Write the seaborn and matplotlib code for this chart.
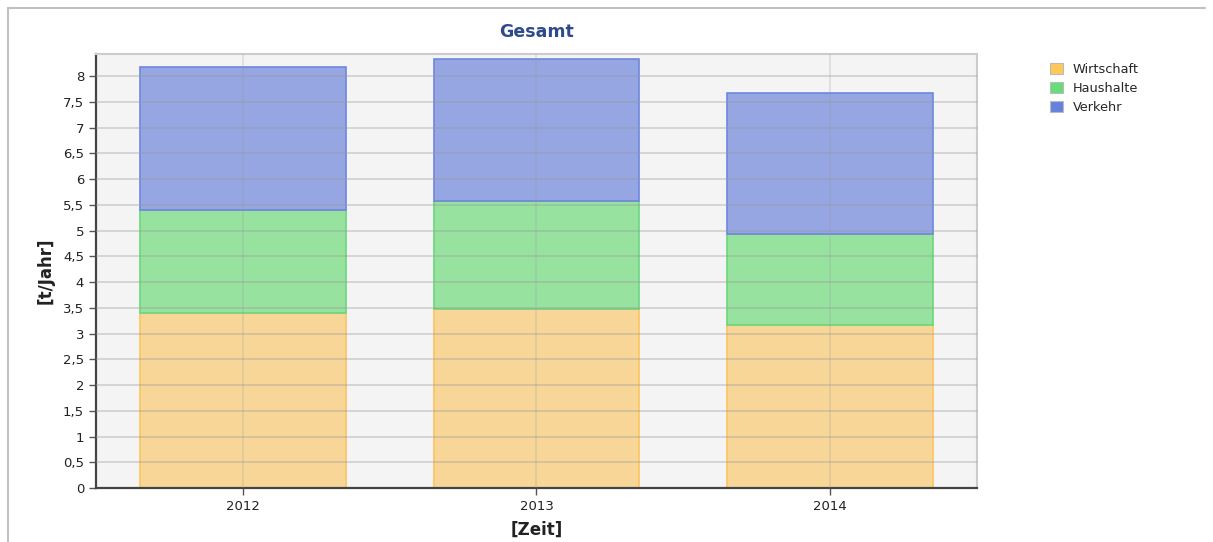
import numpy as np
import pandas as pd
import matplotlib
matplotlib.use("Agg")
import matplotlib.pyplot as plt
from matplotlib.patches import Patch
from matplotlib.lines import Line2D
import seaborn as sns

# data
years = ["2012", "2013", "2014"]
wirtschaft = [3.39, 3.48, 3.17]
haushalte = [2.02, 2.09, 1.76]
verkehr = [2.76, 2.76, 2.75]

series_names = ["Wirtschaft", "Haushalte", "Verkehr"]
fills = ["#f8d698", "#98e2a0", "#95a6e2"]
edges = ["#fcc45e", "#6bd67e", "#6f86df"]
legend_cols = ["#ffc85a", "#66dd77", "#6680e0"]

sns.set_style("white")
plt.rcParams["font.family"] = ["DejaVu Sans"]

fig = plt.figure(figsize=(12.13, 5.42), dpi=100)
ax = fig.add_axes([0.0791, 0.0996, 0.7263, 0.8007])
ax.set_facecolor("#f4f4f4")

bottom = np.zeros(len(years))
for name, vals, fc, ec in zip(series_names, [wirtschaft, haushalte, verkehr], fills, edges):
    df = pd.DataFrame({"year": years, "value": vals})
    sns.barplot(data=df, x="year", y="value", bottom=bottom, color=fc,
                edgecolor=ec, linewidth=1.2, width=0.7, saturation=1, ax=ax, zorder=2)
    bottom = bottom + np.array(vals)

ax.set_xlim(-0.5, 2.5)
ax.set_ylim(0, 8.43)
ax.set_yticks(np.arange(0, 8.01, 0.5))
ax.set_yticklabels([f"{v:g}".replace(".", ",") for v in np.arange(0, 8.01, 0.5)])

# grid on top of the translucent-looking bars
for y in np.arange(0.5, 8.01, 0.5):
    ax.axhline(y, color="#9a9a9a", alpha=0.35, lw=1.4, zorder=3)
for x in range(len(years)):
    ax.axvline(x, color="#9a9a9a", alpha=0.22, lw=1.4, zorder=3)

for side in ["top", "right"]:
    ax.spines[side].set_color("#cccccc")
    ax.spines[side].set_linewidth(1.5)
for side in ["left", "bottom"]:
    ax.spines[side].set_color("#444444")
    ax.spines[side].set_linewidth(1.6)

ax.tick_params(axis="both", direction="out", length=5, width=1, color="#555555",
               labelsize=9.5, labelcolor="#222222", left=True, bottom=True)

ax.set_xlabel("[Zeit]", fontsize=12, fontweight="bold", color="#222222", labelpad=6)
ax.set_ylabel("[t/Jahr]", fontsize=12, fontweight="bold", color="#222222", labelpad=6)
ax.set_title("Gesamt", fontsize=12.5, fontweight="bold", color="#2e4a8a", pad=12)

handles = [Patch(facecolor=c, edgecolor="#bbbbbb", linewidth=0.8) for c in legend_cols]
fig.legend(handles, series_names, loc="upper left", bbox_to_anchor=(1038 / 1213, 1 - 51 / 542),
           frameon=False, fontsize=9.3, handlelength=1.0, handleheight=1.0,
           handletextpad=0.8, labelspacing=0.45)

# outer frame of the chart panel
fig.add_artist(Line2D([8 / 1213, 1205 / 1213], [1 - 8 / 542, 1 - 8 / 542],
                      transform=fig.transFigure, color="#c0c0c0", lw=1.5))
fig.add_artist(Line2D([8 / 1213, 8 / 1213], [0, 1 - 8 / 542],
                      transform=fig.transFigure, color="#c0c0c0", lw=1.5))

fig.savefig("out.png", dpi=100)
